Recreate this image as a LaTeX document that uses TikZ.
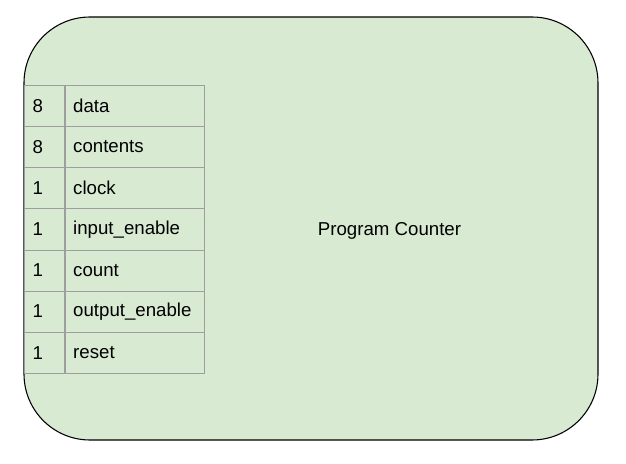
\documentclass[tikz,border=0pt]{standalone}
\usepackage{fontspec}
\setmainfont{Liberation Sans}
\usetikzlibrary{positioning}
\definecolor{pcFill}{HTML}{D9EAD3}
\definecolor{gridGray}{HTML}{9E9E9E}
\tikzset{
  pinnum/.style={draw=gridGray, anchor=north west, inner xsep=6.3pt, inner ysep=0pt,
    minimum height=30.86pt, text width=17.4pt, align=left, font=\fontsize{14}{16}\selectfont},
  pinname/.style={draw=gridGray, anchor=north west, inner xsep=6.3pt, inner ysep=0pt,
    minimum height=30.86pt, text width=92.2pt, align=left, font=\fontsize{14}{16}\selectfont}
}
\begin{document}
\begin{tikzpicture}[x=0.75pt,y=-0.75pt]
	\useasboundingbox (0,0) rectangle (626,464);
	% block outline
	\draw[fill=pcFill, draw=black, line width=0.8pt, rounded corners=49.5pt] (24,17) rectangle (598,440);
	\node[font=\fontsize{14}{16}\selectfont] (title) at (389.5,231) {Program Counter};
	% pin table
	\foreach \w/\lbl [count=\i] in {8/data, 8/contents, 1/clock, 1/input\_enable, 1/count, 1/output\_enable, 1/reset}
	{
		\node[pinnum] (w\i) at (24,{85+(\i-1)*41.14}) {\w};
		\node[pinname] (p\i) at (w\i.north east) {\lbl};
	}
\end{tikzpicture}
\end{document}
